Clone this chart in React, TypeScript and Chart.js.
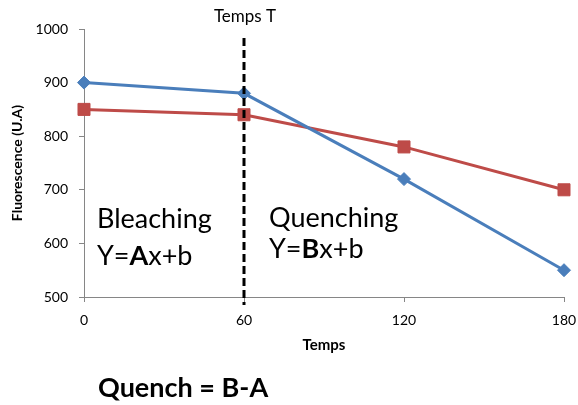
import React, { useEffect, useRef } from "react";
import { Chart, registerables } from "chart.js";

Chart.register(...registerables);

const times = [0, 60, 120, 180];
const seriesBlue = [900, 880, 720, 550];
const seriesRed = [850, 840, 780, 700];
const yTicks = [500, 600, 700, 800, 900, 1000];
const xTicks = [0, 60, 120, 180];
const markerTime = 60;

const FONT = "Lato, 'Open Sans', sans-serif";
const AXIS_COLOR = "#868686";
const BLUE = "#4A7EBB";
const RED = "#BE4B48";

const overlay = {
  id: "overlay",
  afterDatasetsDraw(chart: any) {
    const { ctx, scales, chartArea } = chart;
    const x = scales.x.getPixelForValue(markerTime);
    ctx.save();
    // dashed vertical line
    ctx.strokeStyle = "#000";
    ctx.lineWidth = 3;
    ctx.setLineDash([8, 4]);
    ctx.beginPath();
    ctx.moveTo(x, chartArea.top + 9);
    ctx.lineTo(x, chartArea.bottom + 8);
    ctx.stroke();
    ctx.setLineDash([]);

    ctx.fillStyle = "#000";
    ctx.textBaseline = "alphabetic";
    // Temps T
    ctx.font = `17px ${FONT}`;
    ctx.textAlign = "center";
    ctx.fillText("Temps T", x + 1, 22);

    // Axis titles
    ctx.font = `bold 15px ${FONT}`;
    ctx.textAlign = "center";
    ctx.textBaseline = "middle";
    ctx.fillText("Temps", (chartArea.left + chartArea.right) / 2, 345);
    ctx.font = `bold 14px ${FONT}`;
    ctx.save();
    ctx.translate(17, (chartArea.top + chartArea.bottom) / 2);
    ctx.rotate(-Math.PI / 2);
    ctx.fillText("Fluorescence (U.A)", 0, 0);
    ctx.restore();

    ctx.textBaseline = "alphabetic";
    ctx.textAlign = "left";
    const drawParts = (parts: [string, boolean][], px: number, py: number, size: number) => {
      let cx = px;
      for (const [t, b] of parts) {
        ctx.font = `${b ? "bold " : ""}${size}px ${FONT}`;
        ctx.fillText(t, cx, py);
        cx += ctx.measureText(t).width;
      }
    };
    drawParts([["Bleaching", false]], 97, 228, 27);
    drawParts([["Y=", false], ["A", true], ["x+b", false]], 97, 265, 27);
    drawParts([["Quenching", false]], 269, 227, 27);
    drawParts([["Y=", false], ["B", true], ["x+b", false]], 269, 258, 27);
    drawParts([["Quench = B-A", true]], 98, 397, 27);
    ctx.restore();
  },
};

export default function App() {
  const ref = useRef<HTMLCanvasElement | null>(null);
  useEffect(() => {
    if (!ref.current) return;
    const chart = new Chart(ref.current, {
      type: "line",
      data: {
        datasets: [
          {
            label: "A",
            data: times.map((t, i) => ({ x: t, y: seriesBlue[i] })),
            borderColor: BLUE,
            backgroundColor: BLUE,
            borderWidth: 3,
            pointStyle: "rectRot",
            pointRadius: 6.5,
            pointBorderWidth: 1,
            pointBorderColor: BLUE,
            pointBackgroundColor: BLUE,
            tension: 0,
            clip: false,
          },
          {
            label: "B",
            data: times.map((t, i) => ({ x: t, y: seriesRed[i] })),
            borderColor: RED,
            backgroundColor: RED,
            borderWidth: 3,
            pointStyle: "rect",
            pointRadius: 8.5,
            pointBorderWidth: 1,
            pointBorderColor: RED,
            pointBackgroundColor: RED,
            tension: 0,
            clip: false,
          },
        ],
      },
      options: {
        responsive: false,
        animation: false,
        layout: { padding: { left: 0, top: 29, right: 14, bottom: 0 } },
        plugins: { legend: { display: false }, tooltip: { enabled: false } },
        scales: {
          x: {
            type: "linear",
            min: 0,
            max: 180,
            afterFit: (s: any) => {
              s.height = 108;
              s.paddingLeft = 0;
              s.paddingRight = 0;
            },
            afterBuildTicks: (s: any) => { s.ticks = xTicks.map((v) => ({ value: v })); },
            grid: { drawOnChartArea: false, drawTicks: true, tickLength: 5, color: AXIS_COLOR },
            border: { color: AXIS_COLOR, width: 1 },
            ticks: { padding: 10, color: "#000", font: { family: FONT, size: 14 }, callback: (v: any) => String(v) },
          },
          y: {
            min: 500,
            max: 1000,
            afterFit: (s: any) => {
              s.width = 84;
              s.paddingTop = 0;
              s.paddingBottom = 0;
            },
            afterBuildTicks: (s: any) => { s.ticks = yTicks.map((v) => ({ value: v })); },
            grid: { drawOnChartArea: false, drawTicks: true, tickLength: 5, color: AXIS_COLOR },
            border: { color: AXIS_COLOR, width: 1 },
            ticks: { padding: 11, color: "#000", font: { family: FONT, size: 14 }, callback: (v: any) => String(v) },
          },
        },
      },
      plugins: [overlay],
    });
    return () => chart.destroy();
  }, []);
  return (
    <div style={{ position: "fixed", left: 0, top: 0, width: 578, height: 405, background: "#fff" }}>
      <canvas ref={ref} width={578} height={405} />
    </div>
  );
}
